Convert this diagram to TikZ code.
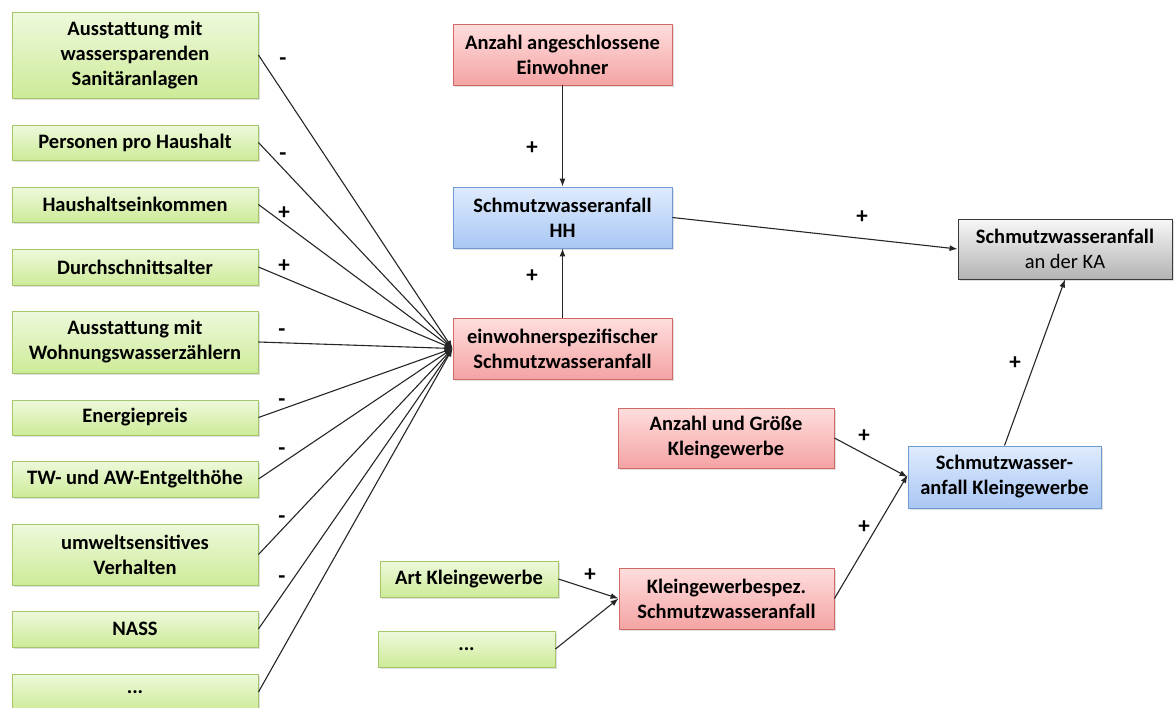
\documentclass[tikz,border=0pt]{standalone}
\usepackage{fontspec}
\setmainfont{Carlito}
\usetikzlibrary{shadows,arrows.meta}

\definecolor{gTop}{HTML}{EEF9DC}
\definecolor{gBot}{HTML}{CDEB98}
\definecolor{gLine}{HTML}{A3C76A}
\definecolor{rTop}{HTML}{FFDEDE}
\definecolor{rBot}{HTML}{F4A3A3}
\definecolor{rLine}{HTML}{D26A68}
\definecolor{bTop}{HTML}{DFEBFD}
\definecolor{bBot}{HTML}{A9C7F4}
\definecolor{bLine}{HTML}{6F9BD5}
\definecolor{kTop}{HTML}{F7F7F7}
\definecolor{kBot}{HTML}{B3B3B3}
\definecolor{kLine}{HTML}{3A3A3A}

\tikzset{
  box/.style={rectangle, inner sep=0pt, align=center, line width=0.9pt,
    font=\fontsize{20.5}{25}\selectfont\bfseries,
    drop shadow={shadow xshift=1.5pt, shadow yshift=-2pt, opacity=0.25}},
  greenbox/.style={box, draw=gLine, top color=gTop, bottom color=gBot},
  redbox/.style={box, draw=rLine, top color=rTop, bottom color=rBot},
  bluebox/.style={box, draw=bLine, top color=bTop, bottom color=bBot},
  graybox/.style={box, draw=kLine, top color=kTop, bottom color=kBot},
  link/.style={line width=1.1pt, draw=black!85, -{Latex[length=8pt,width=6pt]}},
  sign/.style={font=\fontsize{23}{24}\selectfont\bfseries, inner sep=0pt}
}

\begin{document}
\begin{tikzpicture}[x=1pt,y=-1pt]
\useasboundingbox (0,0) rectangle (1174,707);

% influencing factors of household water use
\begin{scope}[every node/.append style={greenbox, minimum width=246}]
  \node[minimum height=86] (f1) at (135,55)    {Ausstattung mit\\wassersparenden\\Sanitäranlagen};
  \node[minimum height=35] (f2) at (135,142.5) {Personen pro Haushalt};
  \node[minimum height=35] (f3) at (135,204.5) {Haushaltseinkommen};
  \node[minimum height=36] (f4) at (135,267)   {Durchschnittsalter};
  \node[minimum height=62] (f5) at (135,342)   {Ausstattung mit\\Wohnungswasserzählern};
  \node[minimum height=35] (f6) at (135,417.5) {Energiepreis};
  \node[minimum height=36] (f7) at (135,479)   {TW- und AW-Entgelthöhe};
  \node[minimum height=61] (f8) at (135,554.5) {umweltsensitives\\Verhalten};
  \node[minimum height=36] (f9) at (135,629)   {NASS};
  \node[minimum height=36] (f10) at (135,692)  {...};
\end{scope}

% household branch
\node[redbox, minimum width=219, minimum height=61] (anz) at (562.5,54.5) {Anzahl angeschlossene\\Einwohner};
\node[bluebox, minimum width=219, minimum height=61] (hh) at (562.5,217.5) {Schmutzwasseranfall\\HH};
\node[redbox, minimum width=219, minimum height=61] (ew) at (562.5,348.5) {einwohnerspezifischer\\Schmutzwasseranfall};

% sewage treatment plant
\node[graybox, minimum width=214, minimum height=60] (ka) at (1065,249) {Schmutzwasseranfall\\\mdseries an der KA};

% small business branch
\node[redbox, minimum width=216, minimum height=60] (ag) at (726,438) {Anzahl und Größe\\Kleingewerbe};
\node[bluebox, minimum width=193, minimum height=62] (kg) at (1004.5,477) {Schmutzwasser-\\anfall Kleingewerbe};
\node[redbox, minimum width=215, minimum height=61] (ks) at (726.5,598.5) {Kleingewerbespez.\\Schmutzwasseranfall};
\node[greenbox, minimum width=178, minimum height=36] (art) at (469,579) {Art Kleingewerbe};
\node[greenbox, minimum width=177, minimum height=36] (etc) at (466.5,649) {...};

% factors converge on the specific water use
\foreach \f in {f1,f2,f3,f4,f5,f6,f7,f8,f9,f10}
  \draw[link] (\f.east) -- (ew.west);

\draw[link] (anz.south) -- (hh.north);
\draw[link] (ew.north) -- (hh.south);
\draw[link] (hh.east) -- (ka.west);
\draw[link] (kg.north) -- (ka.south);
\draw[link] (ag.east) -- (kg.west);
\draw[link] (ks.east) -- ([yshift=2pt]kg.west);
\draw[link] (art.east) -- (ks.west);
\draw[link] (etc.east) -- (ks.west);

% signs of the influences
\node[sign] (s1) at (283,62)  {-};
\node[sign] (s2) at (283,157) {-};
\node[sign] (s3) at (284,213) {+};
\node[sign] (s4) at (284,266) {+};
\node[sign] (s5) at (282,333) {-};
\node[sign] (s6) at (282,403) {-};
\node[sign] (s7) at (282,452) {-};
\node[sign] (s8) at (282,520) {-};
\node[sign] (s9) at (282,580) {-};
\node[sign] (p1) at (532,148) {+};
\node[sign] (p2) at (532,276) {+};
\node[sign] (p3) at (862,217) {+};
\node[sign] (p4) at (864,436) {+};
\node[sign] (p5) at (1015,363) {+};
\node[sign] (p6) at (864,527) {+};
\node[sign] (p7) at (590,575) {+};
\end{tikzpicture}
\end{document}
